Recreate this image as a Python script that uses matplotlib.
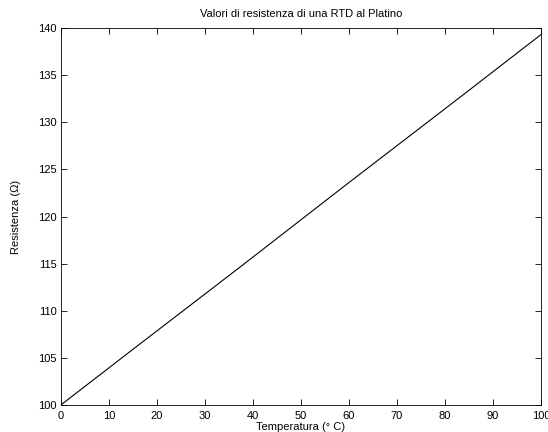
import matplotlib
matplotlib.use("Agg")
import matplotlib.pyplot as plt

temperature = [0, 15, 38, 60, 83, 100]
resistance = [100.0, 105.9, 114.9, 123.6, 132.6, 139.3]
x_ticks = list(range(0, 101, 10))
y_ticks = list(range(100, 141, 5))

plt.rcParams['font.family'] = ['Liberation Sans', 'DejaVu Sans']
fig = plt.figure(figsize=(5.48, 4.32), dpi=100)
ax = fig.add_axes([0.111, 0.0625, 0.876, 0.8725])
ax.plot(temperature, resistance, color='black', linewidth=0.8)
ax.set_xlim(0, 100)
ax.set_ylim(100, 140)
ax.set_xticks(x_ticks)
ax.set_yticks(y_ticks)
ax.tick_params(direction='in', top=True, right=True, labelsize=8, length=4, width=0.6)
ax.tick_params(axis='x', pad=4)
ax.tick_params(axis='y', pad=3)
for s in ax.spines.values():
    s.set_linewidth(0.6)
ax.set_title('Valori di resistenza di una RTD al Platino', fontsize=8, pad=8)
ax.set_xlabel('Temperatura (° C)', fontsize=8, labelpad=1)
ax.set_ylabel('Resistenza (Ω)', fontsize=8, labelpad=12)
fig.savefig('out.png', dpi=100)
